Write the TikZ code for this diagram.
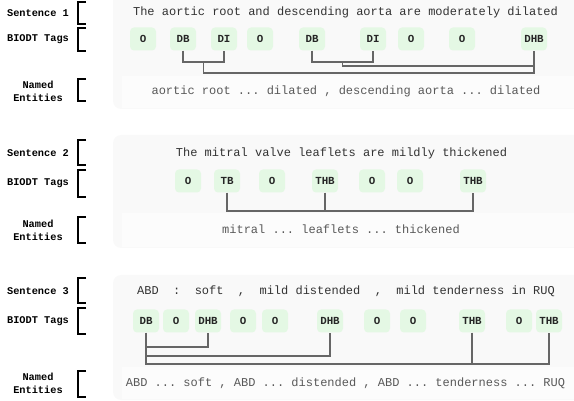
\documentclass[tikz,border=0pt]{standalone}
\usepackage{fontspec}
\setmonofont{Liberation Mono}
\usetikzlibrary{calc}
\definecolor{panelbg}{HTML}{F9F9F9}
\definecolor{entbg}{HTML}{FCFCFC}
\definecolor{tagbg}{HTML}{E4F8E4}
\definecolor{linkgray}{HTML}{666666}
\newcommand\rowbracket[2]{\draw[bracket] (86,#1) -- (78,#1) -- (78,#2) -- (86,#2);}
\begin{document}
\begin{tikzpicture}[x=1pt,y=-1pt,
  tag/.style={fill=tagbg, rounded corners=4pt, minimum width=26pt, minimum height=23pt,
    inner sep=0pt, font=\ttfamily\bfseries\fontsize{10.8}{12}\selectfont, text=black!85},
  rowlabel/.style={font=\ttfamily\bfseries\fontsize{10.3}{13}\selectfont, align=center, inner sep=0pt},
  sent/.style={font=\ttfamily\fontsize{12}{14}\selectfont, text=black!80, inner sep=0pt},
  ent/.style={font=\ttfamily\fontsize{12}{14}\selectfont, text=black!65, inner sep=0pt},
  bracket/.style={line width=1.4pt, black},
  link/.style={linkgray, line width=1.1pt}]

\useasboundingbox (0,0) rectangle (574,401);

% panels and entity strips
\fill[panelbg, rounded corners=8pt] (113,-10) rectangle (590,109);
\fill[entbg] (122,76) rectangle (590,108);
\fill[panelbg, rounded corners=8pt] (113,135) rectangle (590,248);
\fill[entbg] (122,213) rectangle (590,247);
\fill[panelbg, rounded corners=8pt] (113,275) rectangle (590,400);
\fill[entbg] (122,367) rectangle (590,399);

% row labels and brackets
\node[rowlabel] (l1s) at (38,13) {Sentence 1};
\node[rowlabel] (l1t) at (38,39) {BIODT Tags};
\node[rowlabel] (l1e) at (38,91) {Named\\Entities};
\rowbracket{2}{24}
\rowbracket{28}{51}
\rowbracket{79}{101}

\node[rowlabel] (l2s) at (38,153) {Sentence 2};
\node[rowlabel] (l2t) at (38,183) {BIODT Tags};
\node[rowlabel] (l2e) at (38,230) {Named\\Entities};
\rowbracket{140}{165}
\rowbracket{170}{197}
\rowbracket{217}{243}

\node[rowlabel] (l3s) at (38,291) {Sentence 3};
\node[rowlabel] (l3t) at (38,321) {BIODT Tags};
\node[rowlabel] (l3e) at (38,383) {Named\\Entities};
\rowbracket{278}{303}
\rowbracket{308}{334}
\rowbracket{371}{397}

% sentence 1
\node[sent] (s1) at (345.5,12) {The aortic root and descending aorta are moderately dilated};
\node[tag] (a1) at (143,39) {O};
\node[tag] (a2) at (183,39) {DB};
\node[tag] (a3) at (224,39) {DI};
\node[tag] (a4) at (260,39) {O};
\node[tag] (a5) at (312,39) {DB};
\node[tag] (a6) at (373,39) {DI};
\node[tag] (a7) at (411,39) {O};
\node[tag] (a8) at (462,39) {O};
\node[tag] (a9) at (534,39) {DHB};
\node[ent] (e1) at (346,91) {aortic root ... dilated , descending aorta ... dilated};
% DB-DI pairs and their joins to DHB
\coordinate (p1) at ($(a2.south)!0.5!(a3.south)$);
\coordinate (p2) at ($(a5.south)!0.5!(a6.south)$);
\draw[link] (a2.south) -- (a2.south |- 0,62) -| (a3.south);
\draw[link] (a5.south) -- (a5.south |- 0,62) -| (a6.south);
\draw[link] (p1 |- 0,62) -- (p1 |- 0,73) -| (a9.south);
\draw[link] (p2 |- 0,62) -- (p2 |- 0,66) -| (a9.south);

% sentence 2
\node[sent] (s2) at (341.5,153) {The mitral valve leaflets are mildly thickened};
\node[tag] (b1) at (188,181) {O};
\node[tag] (b2) at (227,181) {TB};
\node[tag] (b3) at (272,181) {O};
\node[tag] (b4) at (325,181) {THB};
\node[tag] (b5) at (372,181) {O};
\node[tag] (b6) at (410,181) {O};
\node[tag] (b7) at (473,181) {THB};
\node[ent] (e2) at (341,229) {mitral ... leaflets ... thickened};
\draw[link] (b2.south) -- (b2.south |- 0,211) -| (b7.south);
\draw[link] (b4.south) -- (b4.south |- 0,211);

% sentence 3
\node[sent] (s3) at (346,291) {ABD~~:~~soft~~,~~mild distended~~,~~mild tenderness in RUQ};
\node[tag] (c1) at (146,321) {DB};
\node[tag] (c2) at (176,321) {O};
\node[tag] (c3) at (208,321) {DHB};
\node[tag] (c4) at (243,321) {O};
\node[tag] (c5) at (275,321) {O};
\node[tag] (c6) at (330,321) {DHB};
\node[tag] (c7) at (377,321) {O};
\node[tag] (c8) at (413,321) {O};
\node[tag] (c9) at (472,321) {THB};
\node[tag] (c10) at (519,321) {O};
\node[tag] (c11) at (549,321) {THB};
\node[ent] (e3) at (345.5,383) {ABD ... soft , ABD ... distended , ABD ... tenderness ... RUQ};
\draw[link] (c1.south) -- (c1.south |- 0,364) -| (c11.south);
\draw[link] (c9.south) -- (c9.south |- 0,364);
\draw[link] (c1.south |- 0,347) -| (c3.south);
\draw[link] (c1.south |- 0,356) -| (c6.south);
\end{tikzpicture}
\end{document}
